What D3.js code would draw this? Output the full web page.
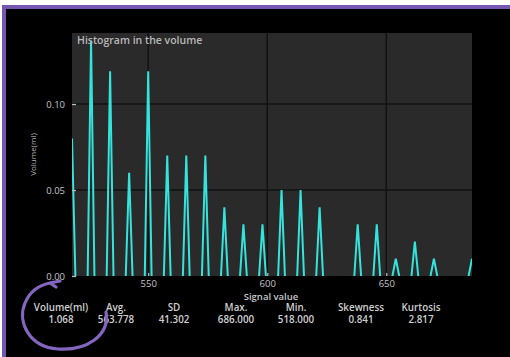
<!DOCTYPE html>
<html>
<head>
<meta charset="utf-8">
<script src="https://cdn.jsdelivr.net/npm/d3@7"></script>
<style>
    html, body { margin: 0; padding: 0; background: #fff; }
    svg { display: block; }
    text { font-family: "Open Sans", "Noto Sans", sans-serif; }
</style>
</head>
<body>
<svg id="chart" width="510" height="357"></svg>
<script>
// Histogram bins (signal value -> volume in ml)
var signalValues = [ 518, 526, 534, 542, 550, 558, 566, 574, 582, 590, 598, 606, 614, 622, 638, 646, 654, 662, 670, 686 ],
    volumes = [ 0.08, 0.137, 0.119, 0.06, 0.119, 0.07, 0.07, 0.07, 0.04, 0.03, 0.03, 0.05, 0.05, 0.04, 0.03, 0.03, 0.01, 0.02, 0.01, 0.01 ],
    xTicks = [ 550, 600, 650 ],
    yTicks = [ 0, 0.05, 0.10 ],
    xDomain = [ 518, 686 ],
    yDomain = [ 0, 0.1413 ];

// Summary row below the chart
var statLabels = [ 'Volume(ml)', 'Avg.', 'SD', 'Max.', 'Min.', 'Skewness', 'Kurtosis' ],
    statValues = [ '1.068', '563.778', '41.302', '686.000', '518.000', '0.841', '2.817' ];

var svg = d3.select( '#chart' ),
    margin = { left: 72, top: 33, right: 472, bottom: 276 },
    purple = '#7556b0',
    cyan = '#34e4dc';

// screenshot frame
svg.append( 'rect' ).attr( 'x', 2 ).attr( 'y', 5 ).attr( 'width', 508 ).attr( 'height', 352 ).attr( 'fill', purple );
svg.append( 'rect' ).attr( 'x', 6 ).attr( 'y', 9 ).attr( 'width', 504 ).attr( 'height', 348 ).attr( 'fill', '#000' );

var x = d3.scaleLinear().domain( xDomain ).range( [ margin.left, margin.right ] ),
    y = d3.scaleLinear().domain( yDomain ).range( [ margin.bottom, margin.top ] );

svg.append( 'defs' ).append( 'clipPath' ).attr( 'id', 'plot-clip' )
    .append( 'rect' )
    .attr( 'x', margin.left ).attr( 'y', margin.top )
    .attr( 'width', margin.right - margin.left ).attr( 'height', margin.bottom - margin.top );

svg.append( 'rect' )
    .attr( 'x', margin.left ).attr( 'y', margin.top )
    .attr( 'width', margin.right - margin.left ).attr( 'height', margin.bottom - margin.top )
    .attr( 'fill', '#2a2a2a' );

// grid
svg.append( 'g' ).selectAll( 'line' ).data( xTicks ).join( 'line' )
    .attr( 'x1', function( d ) { return x( d ); } ).attr( 'x2', function( d ) { return x( d ); } )
    .attr( 'y1', margin.top ).attr( 'y2', margin.bottom )
    .attr( 'stroke', '#121212' ).attr( 'stroke-width', 1.5 );

svg.append( 'g' ).selectAll( 'line' ).data( yTicks.slice( 1 ) ).join( 'line' )
    .attr( 'x1', margin.left ).attr( 'x2', margin.right )
    .attr( 'y1', function( d ) { return y( d ); } ).attr( 'y2', function( d ) { return y( d ); } )
    .attr( 'stroke', '#121212' ).attr( 'stroke-width', 1.5 );

// spikes
var halfBase = 3.4;
svg.append( 'g' ).attr( 'clip-path', 'url(#plot-clip)' )
    .selectAll( 'path' ).data( d3.zip( signalValues, volumes ) ).join( 'path' )
    .attr( 'd', function( d ) {
        var cx = x( d[ 0 ] ), y0 = y( 0 );
        return 'M' + ( cx - halfBase ) + ',' + y0 + 'L' + cx + ',' + y( d[ 1 ] ) + 'L' + ( cx + halfBase ) + ',' + y0;
    } )
    .attr( 'fill', 'none' )
    .attr( 'stroke', cyan )
    .attr( 'stroke-width', 2 )
    .attr( 'stroke-linejoin', 'miter' );

// axes
var yAxis = svg.append( 'g' )
    .attr( 'transform', 'translate(' + margin.left + ',0)' )
    .call( d3.axisRight( y ).tickValues( yTicks ).tickSize( 4 ).tickFormat( d3.format( '.2f' ) ) );
yAxis.select( '.domain' ).remove();
yAxis.selectAll( '.tick line' ).attr( 'stroke', '#bdbdbd' ).attr( 'stroke-width', 1.2 );
yAxis.selectAll( '.tick text' )
    .attr( 'x', -7 ).attr( 'text-anchor', 'end' )
    .attr( 'fill', '#c4c4c4' ).attr( 'font-size', 9.5 ).attr( 'font-family', null );

var xAxis = svg.append( 'g' )
    .attr( 'transform', 'translate(0,' + margin.bottom + ')' )
    .call( d3.axisTop( x ).tickValues( xTicks ).tickSize( 3 ).tickFormat( d3.format( 'd' ) ) );
xAxis.select( '.domain' ).remove();
xAxis.selectAll( '.tick line' ).attr( 'stroke', '#bdbdbd' ).attr( 'stroke-width', 1.2 );
xAxis.selectAll( '.tick text' )
    .attr( 'y', 11 ).attr( 'dy', 0 )
    .attr( 'fill', '#c4c4c4' ).attr( 'font-size', 9.5 ).attr( 'font-family', null );

// titles
svg.append( 'text' )
    .attr( 'x', 77 ).attr( 'y', 44 )
    .attr( 'fill', '#b8b8b8' ).attr( 'font-size', 10.5 ).attr( 'font-weight', 600 )
    .text( 'Histogram in the volume' );

svg.append( 'text' )
    .attr( 'x', 271 ).attr( 'y', 299.5 )
    .attr( 'text-anchor', 'middle' )
    .attr( 'fill', '#c8c8c8' ).attr( 'font-size', 9.5 ).attr( 'font-weight', 600 )
    .text( 'Signal value' );

svg.append( 'text' )
    .attr( 'transform', 'translate(36,' + ( ( margin.top + margin.bottom ) / 2 ) + ') rotate(-90)' )
    .attr( 'text-anchor', 'middle' )
    .attr( 'fill', '#b0b0b0' ).attr( 'font-size', 8 )
    .text( 'Volume(ml)' );

// summary stats
var statX = [ 61, 116, 174, 236, 296, 361, 421 ];
var stats = svg.append( 'g' ).selectAll( 'g' ).data( d3.zip( statLabels, statValues, statX ) ).join( 'g' )
    .attr( 'transform', function( d ) { return 'translate(' + d[ 2 ] + ',0)'; } );
stats.append( 'text' )
    .attr( 'y', 311 ).attr( 'text-anchor', 'middle' )
    .attr( 'fill', '#cfcfcf' ).attr( 'font-size', 9.8 ).attr( 'font-weight', 600 )
    .text( function( d ) { return d[ 0 ]; } );
stats.append( 'text' )
    .attr( 'y', 323 ).attr( 'text-anchor', 'middle' )
    .attr( 'fill', '#cfcfcf' ).attr( 'font-size', 9.8 ).attr( 'font-weight', 600 )
    .text( function( d ) { return d[ 1 ]; } );

// hand drawn circle
svg.append( 'path' )
    .attr( 'd', 'M106,312 C110,336 86,351 58,349 C29,347 17,322 25,303 C30,291 40,285 50,283 L60,281 M50,283 L56,287' )
    .attr( 'fill', 'none' )
    .attr( 'stroke', '#8466c0' )
    .attr( 'stroke-width', 3.2 )
    .attr( 'stroke-linecap', 'round' );
</script>
</body>
</html>
